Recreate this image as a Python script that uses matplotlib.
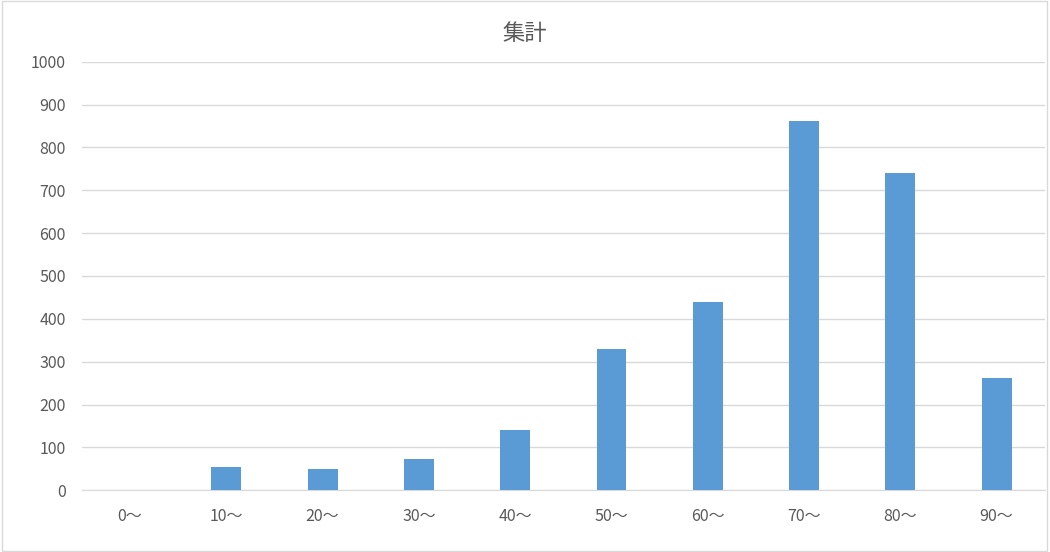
import matplotlib
matplotlib.use('Agg')
import matplotlib.pyplot as plt
from matplotlib.patches import Rectangle

plt.rcParams['font.family'] = ['Noto Sans CJK JP', 'DejaVu Sans']

# data
categories = ['0〜', '10〜', '20〜', '30〜', '40〜', '50〜', '60〜', '70〜', '80〜', '90〜']
counts = [0, 53, 50, 72, 140, 329, 439, 862, 741, 262]
title = '集計'

fig = plt.figure(figsize=(10.5, 5.52), dpi=100)
ax = fig.add_axes([0.078, 0.112, 0.917, 0.776])

ax.bar(range(len(categories)), counts, width=0.31, color='#5B9BD5', zorder=3)

ax.set_xlim(-0.5, len(categories) - 0.5)
ax.set_ylim(0, 1000)
ax.set_yticks(range(0, 1001, 100))
ax.set_xticks(range(len(categories)))
ax.set_xticklabels(categories)
ax.yaxis.grid(True, color='#D9D9D9', linewidth=1, zorder=0)
for side in ['top', 'right', 'left']:
    ax.spines[side].set_visible(False)
ax.spines['bottom'].set_color('#D9D9D9')
ax.tick_params(axis='both', length=0, labelsize=11.5, colors='#595959')
ax.tick_params(axis='x', pad=13)
ax.tick_params(axis='y', pad=11.5)

fig.text(0.5, 0.94, title, ha='center', va='center', fontsize=16, color='#595959')

# chart border
fig.patches.append(Rectangle((0.002, 0.002), 0.995, 0.996, transform=fig.transFigure,
                             fill=False, edgecolor='#D9D9D9', linewidth=1))

fig.savefig('out.png', dpi=100)
